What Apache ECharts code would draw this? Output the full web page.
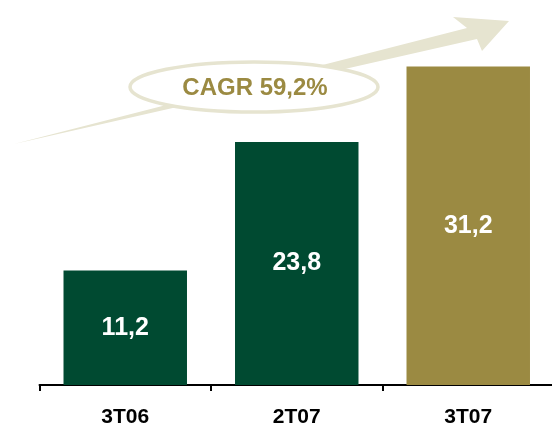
<!DOCTYPE html>
<html>
<head>
<meta charset="utf-8">
<script src="https://cdn.jsdelivr.net/npm/echarts@6/dist/echarts.min.js"></script>
<style>
  html, body { margin: 0; padding: 0; background: #fff; }
  #chart { width: 552px; height: 423px; }
</style>
</head>
<body>
<div id="chart"></div>
<script>
// dados
var categories = ["3T06", "2T07", "3T07"];
var values = [11.2, 23.8, 31.2];
var barColors = ["#004a31", "#004a31", "#9b8a42"];
var cagrText = "CAGR 59,2%";

var olive = "#9b8a42";
var beige = "#e6e4d0";

var chart = echarts.init(document.getElementById("chart"));

chart.setOption({
  animation: false,
  grid: {
    left: 39.5,
    top: 0,
    width: 514.5,
    height: 385,
    outerBoundsMode: "none",
    containLabel: false
  },
  xAxis: {
    type: "category",
    data: categories,
    axisLine: { lineStyle: { color: "#000", width: 2 } },
    axisTick: { show: true, length: 6, lineStyle: { color: "#000", width: 2 } },
    axisLabel: {
      margin: 22,
      color: "#000",
      fontSize: 21,
      fontWeight: "bold",
      fontFamily: "Liberation Sans"
    }
  },
  yAxis: {
    type: "value",
    min: 0,
    max: 37.7,
    show: false
  },
  series: [
    {
      type: "bar",
      barWidth: "72%",
      data: values.map(function (v, i) {
        return { value: v, itemStyle: { color: barColors[i] } };
      }),
      label: {
        show: true,
        position: "inside",
        color: "#fff",
        fontSize: 25,
        fontWeight: "bold",
        fontFamily: "Liberation Sans",
        formatter: function (p) {
          return p.value.toFixed(1).replace(".", ",");
        }
      }
    }
  ],
  // seta de crescimento + elipse com CAGR
  graphic: [
    {
      type: "polygon",
      z: 1,
      shape: {
        points: [
          [14, 144], [467, 28], [453, 17], [509, 21],
          [482, 51], [477, 39], [14, 144]
        ]
      },
      style: { fill: beige }
    },
    {
      type: "ellipse",
      z: 2,
      shape: { cx: 254, cy: 87, rx: 124, ry: 25 },
      style: { fill: "#fff", stroke: beige, lineWidth: 3.5 }
    },
    {
      type: "text",
      z: 3,
      x: 255,
      y: 88,
      style: {
        text: cagrText,
        fill: olive,
        font: "bold 24px 'Liberation Sans'",
        align: "center",
        verticalAlign: "middle"
      }
    }
  ]
});
</script>
</body>
</html>
